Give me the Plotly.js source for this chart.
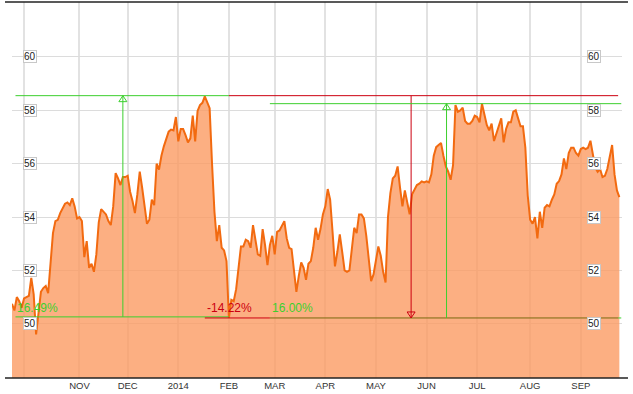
<!DOCTYPE html>
<html><head><meta charset="utf-8">
<script src="https://cdn.plot.ly/plotly-3.0.1.min.js"></script>
<style>html,body{margin:0;padding:0;background:#fff}#chart{width:633px;height:394px}</style>
</head><body><div id="chart"></div>
<script>
// daily closes, one per trading day (index 0 = first day shown)
const price = [
50.75,50.5,51.0,50.85,50.6,50.95,51.0,51.05,51.72,51.1,
49.6,50.4,51.2,51.34,51.42,51.15,52.2,53.4,53.85,53.9,
54.15,54.3,54.5,54.55,54.45,54.7,54.4,53.95,54.0,53.85,
52.5,53.1,52.1,52.25,51.95,52.6,53.8,54.3,54.2,54.1,
53.85,53.7,54.4,55.65,55.45,55.2,55.5,55.5,55.55,54.95,
54.6,54.15,54.85,55.7,55.1,54.45,53.75,53.9,54.65,54.45,
56.0,55.78,56.3,56.65,56.95,57.2,57.28,57.25,57.75,56.84,
57.3,57.3,57.07,56.8,56.95,57.8,56.84,57.98,58.2,58.28,
58.52,58.28,58.08,56.0,54.2,53.1,53.7,52.85,52.75,52.35,
50.22,50.9,50.85,51.3,52.2,52.9,52.9,53.15,53.1,52.85,
53.7,53.1,52.6,52.55,53.55,52.95,52.2,52.95,53.3,52.6,
53.45,53.5,53.65,53.85,53.2,52.85,52.8,52.05,51.2,51.8,
52.3,52.1,51.65,52.25,52.35,52.85,53.6,53.15,53.55,54.1,
54.4,55.05,54.65,53.45,52.15,52.7,53.35,52.7,52.0,51.95,
52.0,52.8,53.6,53.4,54.1,54.1,53.95,53.3,52.35,51.6,
51.85,52.4,52.9,52.55,51.95,51.55,54.0,54.9,55.45,55.55,
55.9,55.1,54.4,55.0,54.5,54.1,54.85,55.05,55.2,55.25,
55.34,55.3,55.34,55.3,55.6,56.3,56.62,56.7,56.78,56.3,
55.9,55.7,55.4,55.95,58.2,57.95,58.0,58.1,57.6,57.5,
57.5,57.6,57.8,57.75,57.55,58.25,57.8,57.45,57.25,57.5,
56.85,57.15,57.4,57.7,56.8,57.3,57.55,57.55,57.95,58.0,
57.7,57.4,57.4,56.6,54.8,53.9,53.75,54.0,53.2,54.2,
53.6,54.35,54.45,54.4,54.65,54.85,55.25,55.35,55.6,56.2,
55.8,56.4,56.6,56.6,56.4,56.3,56.55,56.6,56.55,56.6,
56.86,56.35,55.85,55.7,55.8,55.5,55.55,55.8,56.2,56.7,
55.6,55.0,54.75
];
const day = price.map((_, i) => i);

// month starts (trading-day index) and their labels
const monthTicks  = [5, 28, 48, 69, 90, 109, 130, 151, 172, 193, 215, 236];
const monthLabels = ['', 'NOV', 'DEC', '2014', 'FEB', 'MAR', 'APR', 'MAY', 'JUN', 'JUL', 'AUG', 'SEP'];
const yTicks = [50, 52, 54, 56, 58, 60];

// measured moves: label, low, high
const moveLabels = ['16.49%', '-14.22%', '16.00%'];
const moveLow    = [50.26, 50.22, 50.22];
const moveHigh   = [58.55, 58.55, 58.25];
const moveStart  = [1.45, 80, 107];     // where the lower guide line begins
const moveMarker = [46, 165.6, 180.3];  // day of the vertical arrow
const GREEN = '#3ccf2e', RED = '#cc0010', OLIVE = '#7a6a0e';

const shapes = [];
function hline(x0, x1, y, c) { shapes.push({type:'line', xref:'x', yref:'y', x0, x1, y0:y, y1:y, line:{color:c, width:1}}); }
function vline(x, y0, y1, c) { shapes.push({type:'line', xref:'x', yref:'y', x0:x, x1:x, y0, y1, line:{color:c, width:1}}); }
function tri(x, y, up, c) {
  shapes.push({type:'path', xref:'x', yref:'y', xsizemode:'pixel', ysizemode:'pixel', xanchor:x, yanchor:y,
    path: up ? 'M-4,-6L4,-6L0,0Z' : 'M-4,6L4,6L0,0Z', line:{color:c, width:1}, fillcolor:'rgba(255,255,255,0)'});
}
const lastDay = 251.5, rightEdge = 252.8;
// move 1 (rise)
hline(moveStart[0], 90, moveHigh[0], GREEN);
hline(moveStart[0], 90, moveLow[0], GREEN);
vline(moveMarker[0], moveLow[0], moveHigh[0], GREEN);
tri(moveMarker[0], moveHigh[0], true, GREEN);
// move 2 (drop)
hline(90, lastDay, moveHigh[1], RED);
hline(moveStart[1], moveStart[2], moveLow[1], RED);
hline(moveStart[2], lastDay, moveLow[1], OLIVE);
vline(moveMarker[1], moveHigh[1], moveLow[1], RED);
tri(moveMarker[1], moveLow[1], false, RED);
// move 3 (rise)
hline(moveStart[2], rightEdge, moveHigh[2], GREEN);
hline(lastDay, rightEdge, moveLow[2], GREEN);
vline(moveMarker[2], moveLow[2], moveHigh[2], GREEN);
tri(moveMarker[2], moveHigh[2], true, GREEN);
// frame lines
shapes.push({type:'line', xref:'paper', yref:'paper', x0:-0.0115, x1:1.0098, y0:0, y1:0, line:{color:'#222', width:1.5}});
shapes.push({type:'line', xref:'paper', yref:'paper', x0:-0.0115, x1:1.0098, y0:1, y1:1, line:{color:'#222', width:1.5}});

const annotations = [];
const FONT = 'Liberation Sans, Arial, sans-serif';
yTicks.forEach(t => {
  [0.029, 0.9533].forEach(px => annotations.push({
    xref:'paper', yref:'y', x:px, y:t, text:String(t), showarrow:false,
    xanchor:'center', yanchor:'middle', bgcolor:'#fff', bordercolor:'#c8c8c8', borderwidth:1, borderpad:0,
    font:{family:FONT, size:10, color:'#222'}
  }));
});
const moveColors = [GREEN, RED, GREEN];
moveLabels.forEach((lab, k) => annotations.push({
  xref:'x', yref:'y', x:moveStart[k], y:50.6, text:lab, showarrow:false,
  xanchor:'left', yanchor:'middle', font:{family:FONT, size:12, color:moveColors[k]}
}));

const trace = {
  x: day, y: price, type:'scatter', mode:'lines',
  line:{color:'#f26a10', width:2}, fill:'tozeroy', fillcolor:'rgba(251,155,99,0.8)',
  hoverinfo:'skip'
};

const layout = {
  width:633, height:394,
  margin:{l:12, r:11, t:2, b:16},
  paper_bgcolor:'#fff', plot_bgcolor:'#fff',
  showlegend:false,
  xaxis:{range:[0, 253.1], tickvals:monthTicks, ticktext:monthLabels, showgrid:true, gridcolor:'#e2e2e2', gridwidth:2,
         zeroline:false, showline:false, ticks:'', tickfont:{family:FONT, size:9.5, color:'#333'}, fixedrange:true},
  yaxis:{range:[47.97, 62.06], tickvals:yTicks, showticklabels:false, showgrid:true, gridcolor:'#dcdcdc', gridwidth:1,
         zeroline:false, showline:false, ticks:'', fixedrange:true},
  shapes, annotations
};
Plotly.newPlot('chart', [trace], layout, {displayModeBar:false, staticPlot:true});
</script></body></html>
